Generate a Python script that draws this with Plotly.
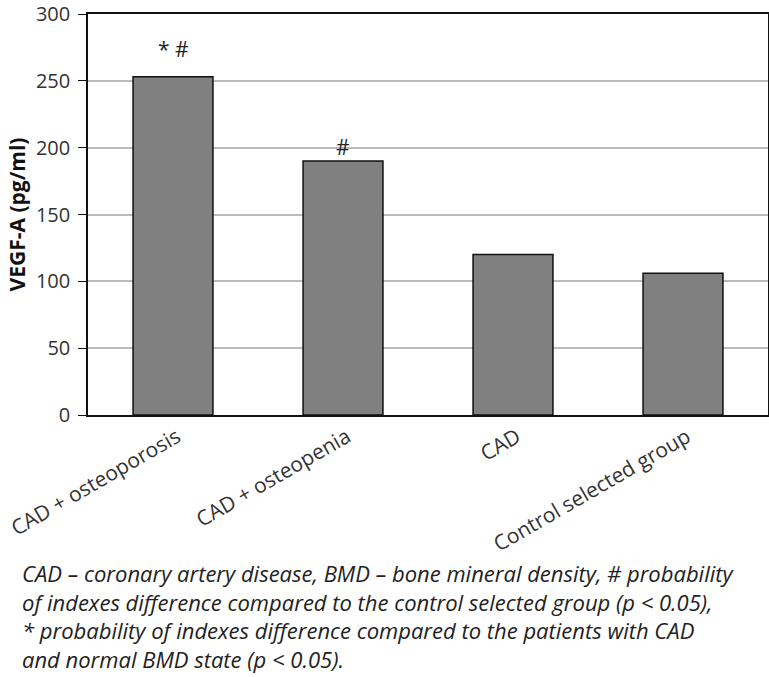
import plotly.graph_objects as go

categories = ["CAD + osteoporosis", "CAD + osteopenia", "CAD", "Control selected group"]
values = [253, 190, 120, 106]
markers = ["* #", "#", "", ""]
y_ticks = [0, 50, 100, 150, 200, 250, 300]
y_title = "VEGF-A (pg/ml)"
caption_lines = [
    "CAD – coronary artery disease, BMD – bone mineral density, # probability",
    "of indexes difference compared to the control selected group (p < 0.05),",
    "* probability of indexes difference compared to the patients with CAD",
    "and normal BMD state (p < 0.05).",
]

W, H = 769, 677
ML, MR, MT, MB = 88, 1, 14, 262
PW, PH = W - ML - MR, H - MT - MB

FONT = "Open Sans"

fig = go.Figure()
fig.add_trace(go.Bar(
    x=categories, y=values,
    marker=dict(color="#808080", line=dict(color="#111111", width=1.5)),
    width=0.47,
))

for c, v, m in zip(categories, values, markers):
    if m:
        fig.add_annotation(x=c, y=v, text=m, showarrow=False, yanchor="bottom",
                           yshift=12 if m == "* #" else -2,
                           font=dict(family=FONT, size=21, color="#222222"))

def ypix_to_paper(py):
    return (H - MB - py) / PH

caption = "<br>".join("<i>" + l.replace("<", "&lt;") + "</i>" for l in caption_lines)
fig.add_annotation(
    xref="paper", yref="paper",
    x=(20 - ML) / PW, y=ypix_to_paper(616),
    xanchor="left", yanchor="middle",
    text=caption,
    showarrow=False, align="left",
    font=dict(family=FONT, size=22, color="#222222"),
)

fig.update_layout(
    width=W, height=H,
    margin=dict(l=ML, r=MR, t=MT, b=MB, autoexpand=False),
    paper_bgcolor="white", plot_bgcolor="white",
    showlegend=False,
    bargap=0.5,
    xaxis=dict(
        automargin=False,
        tickangle=-30,
        ticklabelshift=4,
        tickfont=dict(family=FONT, size=21, color="#333333"),
        showline=True, linecolor="#111111", linewidth=1.5,
        mirror=True, ticks="", showgrid=False,
    ),
    yaxis=dict(
        automargin=False,
        range=[0, 300],
        tickvals=y_ticks,
        tickfont=dict(family=FONT, size=20, color="#333333"),
        ticklabeloverflow="allow",
        showline=True, linecolor="#111111", linewidth=1.5, mirror=True,
        ticks="outside", ticklen=8, tickcolor="#111111",
        ticklabelstandoff=4,
        showgrid=True, gridcolor="#bbbbbb", gridwidth=1.5,
        zeroline=False,
        title=dict(text="<b>" + y_title + "</b>", font=dict(family=FONT, size=21, color="#111111"), standoff=5),
    ),
)

fig.write_html("out.html", config={"displayModeBar": False},
               post_script="document.body.style.margin='0';")
